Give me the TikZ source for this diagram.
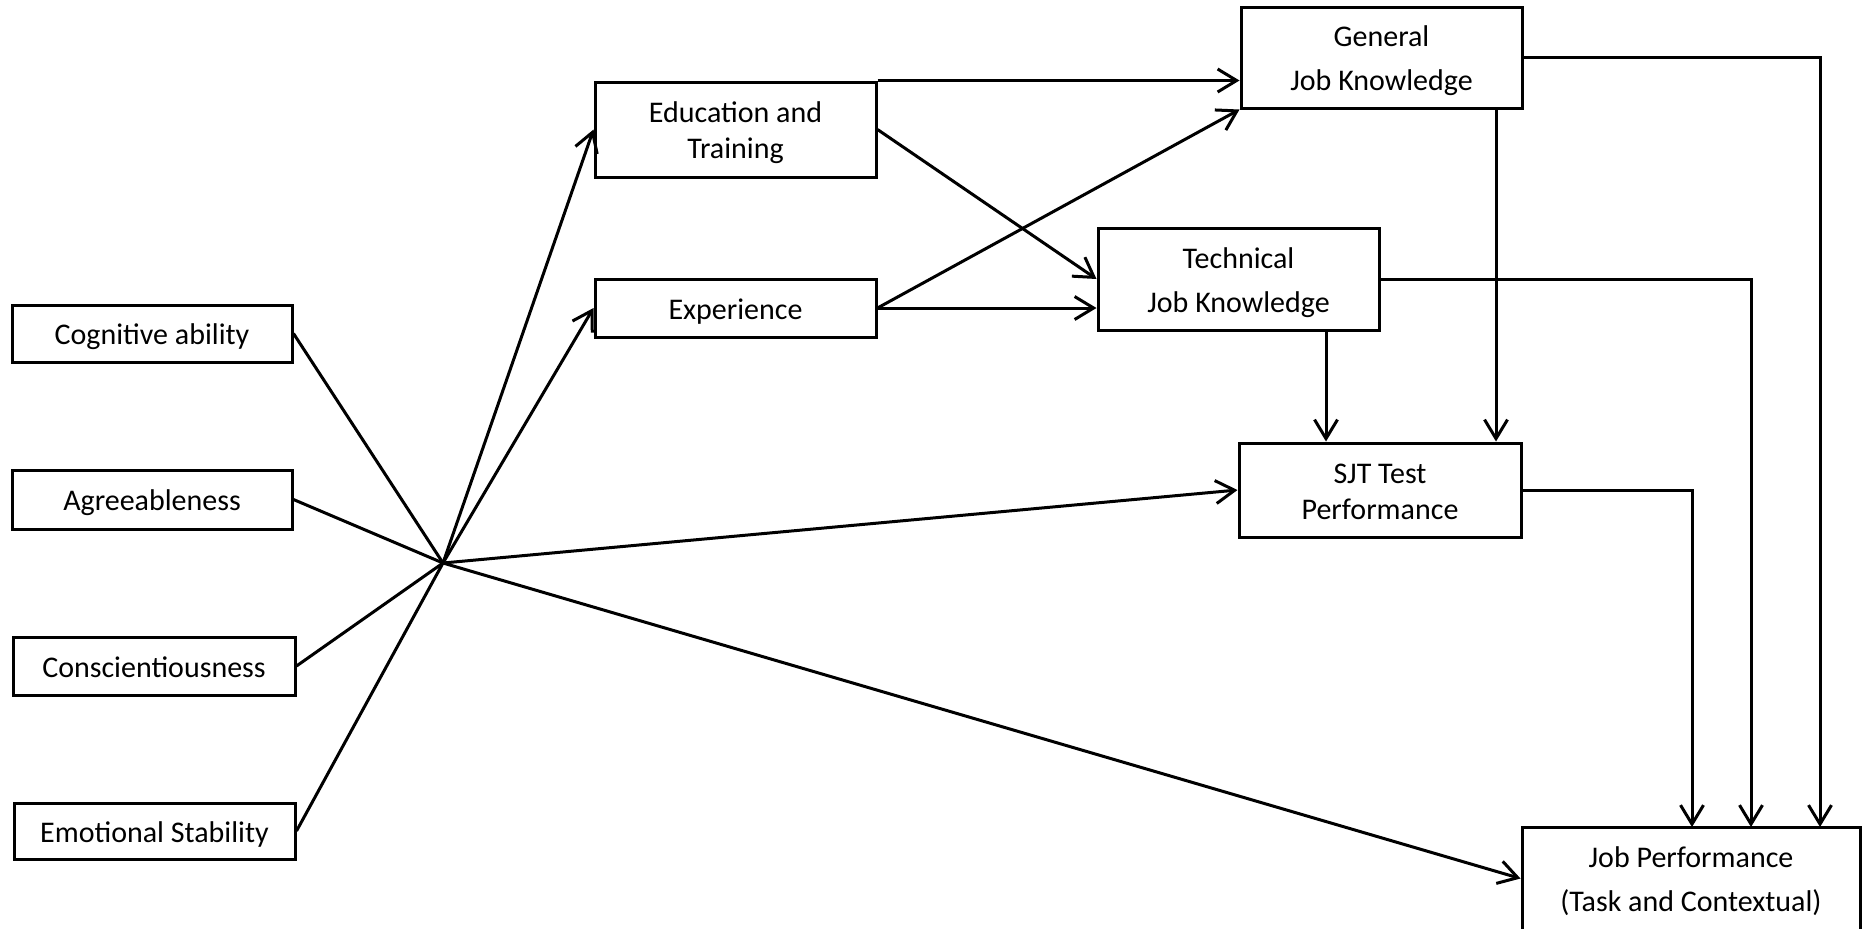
\documentclass[tikz,border=0pt]{standalone}
\usepackage{fontspec}
\setmainfont{Carlito}
\usetikzlibrary{arrows.meta}
\newcommand\twolines[3][0pt]{\begin{tabular}[t]{@{}c@{}}#2\\[#1]#3\end{tabular}}
\begin{document}
\begin{tikzpicture}[x=0.5pt,y=-0.5pt,
  box/.style={draw, line width=1.5pt, inner sep=0pt, font=\fontsize{15}{18}\selectfont,
    text height=11.2pt, text depth=0pt},
  boxa/.style={box, text depth=18pt},
  boxb/.style={box, text depth=22pt},
  link/.style={line width=1.5pt},
  arr/.style={link, -{Straight Barb[length=9.5pt,width=11.5pt]}}]
\clip (0,0) rectangle (1863,928);
% left boxes
\node[box, minimum width=140pt, minimum height=28.5pt] (cog) at (152,333.5) {Cognitive ability};
\node[box, minimum width=140pt, minimum height=29.5pt] (agr) at (152,499.5) {Agreeableness};
\node[box, minimum width=141pt, minimum height=29pt] (con) at (154,666) {Conscientiousness};
\node[box, minimum width=140.5pt, minimum height=28pt] (emo) at (154.5,831) {Emotional Stability};
% middle boxes
\node[boxa, minimum width=140.5pt, minimum height=47.5pt] (edu) at (735.5,129.5) {\twolines{Education and}{Training}};
\node[box, minimum width=140.5pt, minimum height=29pt] (exp) at (735.5,308) {Experience};
% right boxes
\node[boxb, minimum width=140.5pt, minimum height=50.5pt] (gen) at (1381.5,57.5) {\twolines[4pt]{General}{Job Knowledge}};
\node[boxb, minimum width=140.5pt, minimum height=51pt] (tec) at (1238.5,279) {\twolines[4pt]{Technical}{Job Knowledge}};
\node[boxa, minimum width=141pt, minimum height=47pt] (sjt) at (1380,490) {\twolines{SJT Test}{Performance}};
\node[boxb, minimum width=169pt, minimum height=51.5pt] (jp) at (1691,878.5) {\twolines[4pt]{Job Performance}{(Task and Contextual)}};
% helper coordinates
\coordinate (hub) at (443,563);
\coordinate (t1) at (1326,0);
\coordinate (g1) at (1496,0);
\coordinate (c1) at (1692,827);
\coordinate (c2) at (1751,827);
\coordinate (c3) at (1820,827);
% personality to hub
\draw[link] (cog.east) -- (hub);
\draw[link] (agr.east) -- (hub);
\draw[link] (con.east) -- (hub);
\draw[link] (emo.east) -- (hub);
% hub outgoing
\draw[arr] (hub) -- (edu.west);
\draw[arr] (hub) -- (exp.west);
\draw[arr] (hub) -- (sjt.west);
\draw[arr] (hub) -- (jp.west);
% education / experience
\draw[arr] (edu.north east) -- (edu.north east -| gen.west);
\draw[arr] (edu.east) -- (tec.west);
\draw[arr] (exp.east) -- (gen.south west);
\draw[arr] (exp.east) -- (exp.east -| tec.west);
% knowledge to SJT
\draw[arr] (tec.south -| t1) -- (sjt.north -| t1);
\draw[arr] (gen.south -| g1) -- (sjt.north -| g1);
% to job performance
\draw[arr] (gen.east) -| (c3);
\draw[arr] (tec.east) -| (c2);
\draw[arr] (sjt.east) -| (c1);
\end{tikzpicture}
\end{document}
